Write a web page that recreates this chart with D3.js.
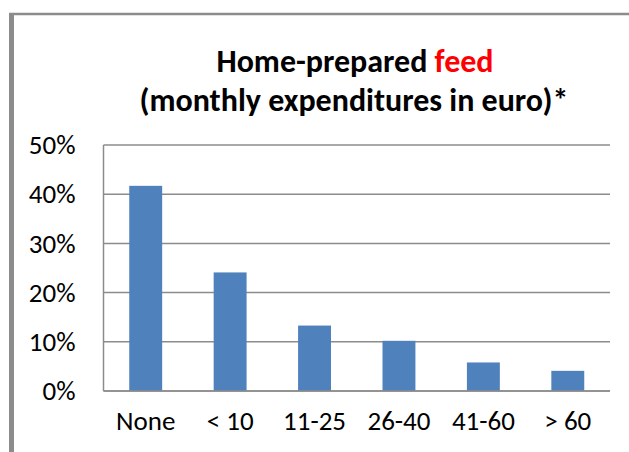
<!DOCTYPE html>
<html><head><meta charset="utf-8">
<script src="https://cdn.jsdelivr.net/npm/d3@7"></script>
<style>body{margin:0;background:#fff}svg{display:block}</style>
</head><body>
<script>
const categories = ["None", "< 10", "11-25", "26-40", "41-60", "> 60"];
const values = [0.417, 0.241, 0.133, 0.102, 0.058, 0.041];
const yTicks = [0, 0.1, 0.2, 0.3, 0.4, 0.5];
const titleLine1 = ["Home-prepared ", "feed"];
const titleLine2 = "(monthly expenditures in euro)*";

const W = 629, H = 452;
const svg = d3.select("body").append("svg").attr("width", W).attr("height", H);
const font = "Carlito, Calibri, 'Open Sans', 'Liberation Sans', sans-serif";

// frame
svg.append("line").attr("x1", 9).attr("x2", W).attr("y1", 14).attr("y2", 14)
  .attr("stroke", "#8c8c8c").attr("stroke-width", 2.5);
svg.append("line").attr("x1", 11.5).attr("x2", 11.5).attr("y1", 13).attr("y2", H)
  .attr("stroke", "#8c8c8c").attr("stroke-width", 5);

const m = {left: 103.5, right: 610, top: 145, bottom: 391};
const x = d3.scaleBand().domain(categories).range([m.left, m.right]).paddingInner(0.61).paddingOuter(0.305);
const y = d3.scaleLinear().domain([0, 0.5]).range([m.bottom, m.top]);

// gridlines
svg.append("g").selectAll("line").data(yTicks).join("line")
  .attr("x1", m.left).attr("x2", m.right)
  .attr("y1", d => y(d)).attr("y2", d => y(d))
  .attr("stroke", "#8c8c8c").attr("stroke-width", 1.5);

// y axis line
svg.append("line").attr("x1", m.left).attr("x2", m.left).attr("y1", m.top).attr("y2", m.bottom)
  .attr("stroke", "#8c8c8c").attr("stroke-width", 1.5);

// bars
svg.append("g").selectAll("rect").data(values).join("rect")
  .attr("x", (d, i) => x(categories[i]))
  .attr("width", x.bandwidth())
  .attr("y", d => y(d))
  .attr("height", d => y(0) - y(d))
  .attr("fill", "#4f81bd");

// baseline
svg.append("line").attr("x1", m.left).attr("x2", m.right).attr("y1", m.bottom).attr("y2", m.bottom)
  .attr("stroke", "#8c8c8c").attr("stroke-width", 1.5);

// y labels
const yAxis = d3.axisLeft(y).tickValues(yTicks).tickFormat(d3.format(".0%")).tickSize(0).tickPadding(28);
const gy = svg.append("g").attr("transform", `translate(${m.left},0)`).call(yAxis);
gy.select(".domain").remove();
gy.selectAll("text").attr("font-family", font).attr("font-size", 27).attr("fill", "#000");

// x labels
const xAxis = d3.axisBottom(x).tickSize(0).tickPadding(20);
const gx = svg.append("g").attr("transform", `translate(0,${m.bottom})`).call(xAxis);
gx.select(".domain").remove();
gx.selectAll("text").attr("font-family", font).attr("font-size", 27).attr("fill", "#000");

// title
const t1 = svg.append("text").attr("x", 355).attr("y", 72).attr("text-anchor", "middle")
  .attr("font-family", font).attr("font-size", 32).attr("font-weight", "bold");
t1.append("tspan").attr("fill", "#000").text(titleLine1[0]);
t1.append("tspan").attr("fill", "#ff0000").text(titleLine1[1]);
svg.append("text").attr("x", 354).attr("y", 111).attr("text-anchor", "middle")
  .attr("font-family", font).attr("font-size", 32).attr("font-weight", "bold").attr("fill", "#000")
  .text(titleLine2);
</script>
</body></html>
